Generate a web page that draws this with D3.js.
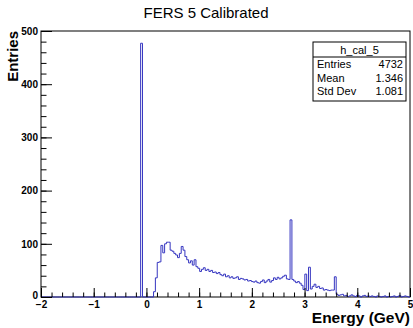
<!DOCTYPE html>
<html>
<head>
<meta charset="utf-8">
<script src="https://cdn.jsdelivr.net/npm/d3@7"></script>
<style>
  body { margin: 0; background: #fff; }
  svg { display: block; font-family: "Liberation Sans", Arial, sans-serif; }
</style>
</head>
<body>
<svg id="canvas" width="413" height="328"></svg>
<script>
// histogram h_cal_5 : 200 bins from -2 to 5 GeV
let xMin = -2;
let xMax = 5;
let nBins = 200;

// bin contents (bin 0 .. 199)
let counts = [
  0, 0, 0, 0, 0, 0, 0, 0, 0, 0,
  0, 0, 0, 0, 0, 0, 0, 0, 0, 0,
  0, 0, 0, 0, 0, 0, 0, 0, 0, 0,
  0, 0, 0, 0, 0, 0, 0, 0, 0, 0,
  0, 0, 0, 0, 0, 0, 0, 0, 0, 0,
  0, 0, 0, 0, 477, 0, 0, 0, 0, 0,
  0, 10, 36, 65, 66, 97, 83, 100, 103, 103,
  88, 86, 82, 79, 74, 82, 95, 88, 76, 70,
  64, 68, 60, 70, 57, 54, 48, 52, 55, 50,
  52, 48, 50, 46, 47, 44, 46, 42, 40, 43,
  38, 40, 36, 38, 35, 36, 38, 33, 35, 34,
  32, 33, 30, 31, 29, 28, 30, 27, 26, 29,
  32, 27, 30, 33, 28, 31, 36, 33, 37, 34,
  36, 39, 41, 34, 33, 145, 33, 30, 27, 29,
  26, 22, 14, 43, 12, 56, 15, 20, 24, 18,
  20, 16, 17, 13, 14, 13, 12, 13, 13, 38,
  5, 3, 4, 5, 2, 3, 1, 2, 4, 2,
  1, 3, 2, 0, 2, 3, 1, 2, 1, 2,
  1, 0, 2, 1, 0, 1, 2, 0, 1, 0,
  1, 2, 0, 1, 3, 0, 1, 2, 1, 0
];

let xTicks = [-2, -1, 0, 1, 2, 3, 4, 5];
let yTicks = [0, 100, 200, 300, 400, 500];

let statNames = ['Entries', 'Mean', 'Std Dev'];
let statValues = ['4732', '1.346', '1.081'];

let canvas = d3.select('#canvas');

// frame edges in pixels
let frameLeft = 41, frameRight = 410, frameTop = 31, frameBottom = 297;

let xScale = d3.scaleLinear().domain([xMin, xMax]).range([frameLeft, frameRight]);
let yScale = d3.scaleLinear().domain([0, 500]).range([frameBottom, frameTop]);

let binWidth = (xMax - xMin) / nBins;

// title
canvas.append('text')
  .attr('x', 206)
  .attr('y', 18)
  .attr('text-anchor', 'middle')
  .style('font-size', '15px')
  .text('FERS 5 Calibrated');

// frame
canvas.append('rect')
  .attr('x', frameLeft)
  .attr('y', frameTop)
  .attr('width', frameRight - frameLeft)
  .attr('height', frameBottom - frameTop)
  .attr('fill', 'none')
  .attr('stroke', '#000')
  .attr('stroke-width', 1);

// histogram outline (step)
let points = counts.map((c, i) => [xMin + i * binWidth, c]);
points.push([xMax, counts[counts.length - 1]]);

let step = d3.line()
  .x((d) => xScale(d[0]))
  .y((d) => yScale(d[1]))
  .curve(d3.curveStepAfter);

canvas.append('path')
  .attr('d', step(points))
  .attr('fill', 'none')
  .attr('stroke', '#3535c0')
  .attr('stroke-width', 1);

// minor ticks
let xMinor = d3.range(xMin, xMax + 0.001, 0.2).map((v) => +v.toFixed(2));
let yMinor = d3.range(0, 501, 20);

canvas.append('g')
  .attr('transform', 'translate(0,' + frameBottom + ')')
  .call(d3.axisBottom(xScale).tickValues(xMinor).tickFormat('').tickSizeInner(-4.5).tickSizeOuter(0))
  .call((g) => g.select('.domain').remove());

canvas.append('g')
  .attr('transform', 'translate(' + frameLeft + ',0)')
  .call(d3.axisLeft(yScale).tickValues(yMinor).tickFormat('').tickSizeInner(-5.5).tickSizeOuter(0))
  .call((g) => g.select('.domain').remove());

// major ticks + labels
let xAxis = canvas.append('g')
  .attr('transform', 'translate(0,' + frameBottom + ')')
  .call(d3.axisBottom(xScale).tickValues(xTicks).tickFormat(d3.format('d'))
    .tickSizeInner(-9).tickSizeOuter(0).tickPadding(4));
xAxis.select('.domain').remove();
xAxis.selectAll('text')
  .style('font-size', '10px')
  .style('font-weight', 'bold')
  .attr('fill', '#000');

let yAxis = canvas.append('g')
  .attr('transform', 'translate(' + frameLeft + ',0)')
  .call(d3.axisLeft(yScale).tickValues(yTicks).tickFormat(d3.format('d'))
    .tickSizeInner(-11).tickSizeOuter(0).tickPadding(3));
yAxis.select('.domain').remove();
yAxis.selectAll('text')
  .style('font-size', '10px')
  .style('font-weight', 'bold')
  .attr('fill', '#000');
// lift the "0" label a little so it clears the x labels
yAxis.selectAll('.tick').filter((d) => d === 0).select('text').attr('dy', '0.1em');

canvas.selectAll('.tick line').attr('stroke', '#000');

// axis titles
canvas.append('text')
  .attr('x', frameRight)
  .attr('y', 323)
  .attr('text-anchor', 'end')
  .style('font-size', '15.5px')
  .style('font-weight', 'bold')
  .text('Energy (GeV)');

canvas.append('text')
  .attr('transform', 'translate(18,' + frameTop + ') rotate(-90)')
  .attr('text-anchor', 'end')
  .style('font-size', '15px')
  .style('font-weight', 'bold')
  .text('Entries');

// stats box
let box = canvas.append('g');
box.append('rect')
  .attr('x', 313)
  .attr('y', 42)
  .attr('width', 93)
  .attr('height', 59)
  .attr('fill', '#fff')
  .attr('stroke', '#000');
box.append('line')
  .attr('x1', 313).attr('x2', 406)
  .attr('y1', 57).attr('y2', 57)
  .attr('stroke', '#000');
box.append('text')
  .attr('x', 359.5)
  .attr('y', 54)
  .attr('text-anchor', 'middle')
  .style('font-size', '11px')
  .text('h_cal_5');

statNames.forEach((name, i) => {
  box.append('text')
    .attr('x', 317)
    .attr('y', 68 + i * 13.5)
    .style('font-size', '11px')
    .text(name);
  box.append('text')
    .attr('x', 403)
    .attr('y', 68 + i * 13.5)
    .attr('text-anchor', 'end')
    .style('font-size', '11px')
    .text(statValues[i]);
});
</script>
</body>
</html>
